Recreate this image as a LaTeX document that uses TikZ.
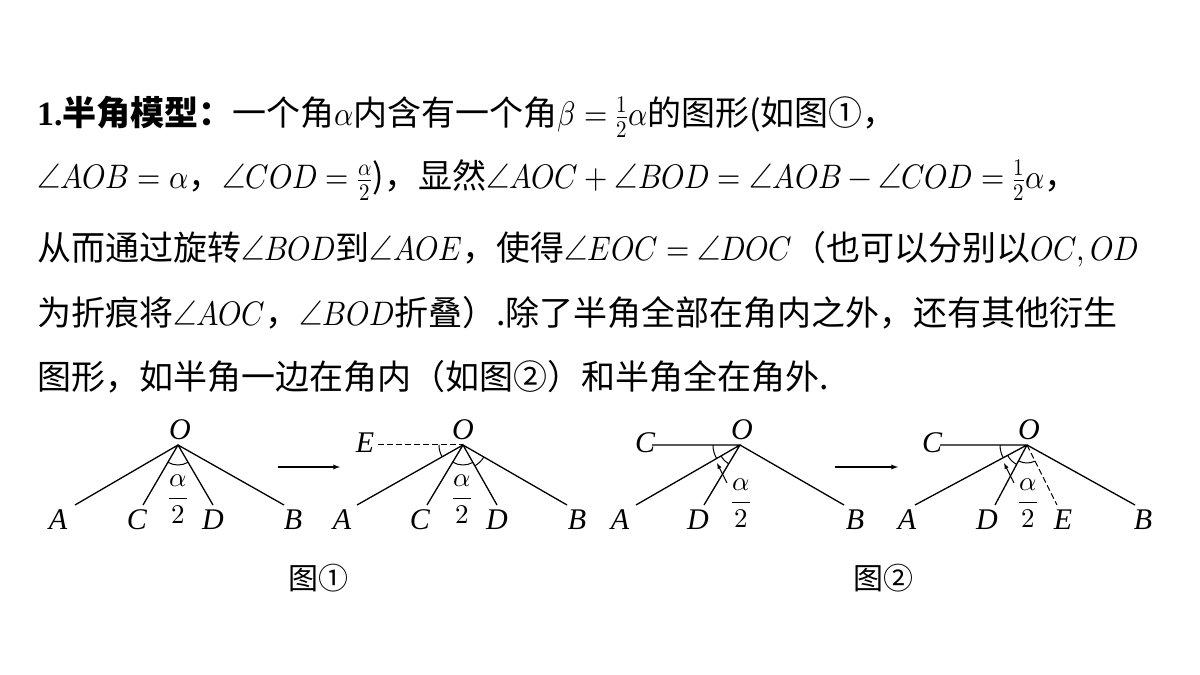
\documentclass[tikz,border=0pt]{standalone}
\usepackage{amsmath}
\usepackage{graphicx}
\usepackage{fontspec}
\usepackage{unicode-math}
\setmathfont{Latin Modern Math}
\setmainfont{Noto Sans CJK SC}
\newfontfamily\lbl{Liberation Serif}
\newfontfamily\numf{Liberation Serif}
\newcommand\mm[1]{\scalebox{0.88}[1]{$#1$}}
\usetikzlibrary{angles}
\begin{document}
\begin{tikzpicture}[x=1pt,y=1pt,
  txt/.style={anchor=west,inner sep=0,font=\fontsize{34}{34}\selectfont},
  lab/.style={font=\fontsize{30}{30}\selectfont\lbl\itshape,inner sep=0},
  frac/.style={font=\fontsize{27}{27}\selectfont,inner sep=0},
  ln/.style={line width=1.3pt},
  dsh/.style={line width=1pt,dash pattern=on 6pt off 3pt},
  ang/.style={draw,line width=1pt,angle radius=#1},
  figcap/.style={font=\fontsize{30}{30}\selectfont,inner sep=0}]
\useasboundingbox (0,0) rectangle (1200,675);
\fill[white] (0,0) rectangle (1200,675);
% text
\node[txt] (l1) at (37,558) {{\bfseries\numf 1.}{\bfseries 半角模型：}一个角\mm{\alpha}内含有一个角\mm{\beta=\frac{1}{2}\alpha}的图形(如图①，};
\node[txt] (l2) at (37,495) {\mm{\angle AOB=\alpha}，\mm{\angle COD=\frac{\alpha}{2}})，显然\mm{\angle AOC+\angle BOD=\angle AOB-\angle COD=\frac{1}{2}\alpha}，};
\node[txt] (l3) at (37,426) {从而通过旋转\mm{\angle BOD}到\mm{\angle AOE}，使得\mm{\angle EOC=\angle DOC}（也可以分别以\mm{OC,OD}};
\node[txt] (l4) at (37,362) {为折痕将\mm{\angle AOC}，\mm{\angle BOD}折叠）.除了半角全部在角内之外，还有其他衍生};
\node[txt] (l5) at (37,298) {图形，如半角一边在角内（如图②）和半角全在角外.};
% fig 1 left
\coordinate (O1) at (178,230);
\coordinate (A1) at (75,170); \coordinate (C1) at (143,170);
\coordinate (D1) at (213,170); \coordinate (B1) at (284,170);
\draw[ln] (A1)--(O1)--(B1) (C1)--(O1)--(D1);
\pic[ang=20pt] {angle=C1--O1--D1};
\node[lab] (o1) at (180,245) {O};
\node[lab] (a1) at (58,155) {A};
\node[lab] (c1) at (137,155) {C};
\node[lab] (d1) at (213,155) {D};
\node[lab] (b1) at (293,155) {B};
\node[frac] (f1) at (178,176) {$\dfrac{\alpha}{2}$};
% arrow 1
\coordinate (p1) at (278,208); \coordinate (q1) at (340,208);
\draw[line width=1.3pt,-latex] (p1)--(q1);
% fig 1 right
\coordinate (O2) at (463,230);
\coordinate (E2) at (378,230);
\coordinate (A2) at (357,170); \coordinate (C2) at (427,170);
\coordinate (D2) at (497,170); \coordinate (B2) at (567,170);
\draw[ln] (A2)--(O2)--(B2) (C2)--(O2)--(D2);
\draw[dsh] (E2)--(O2);
\pic[ang=20pt] {angle=C2--O2--D2};
\pic[ang=24pt] {angle=E2--O2--A2};
\pic[ang=24pt] {angle=D2--O2--B2};
\node[lab] (o2) at (463,245) {O};
\node[lab] (e2) at (365,232) {E};
\node[lab] (a2) at (342,155) {A};
\node[lab] (c2) at (420,155) {C};
\node[lab] (d2) at (497,155) {D};
\node[lab] (b2) at (577,155) {B};
\node[frac] (f2) at (462,176) {$\dfrac{\alpha}{2}$};
% fig 2 left
\coordinate (O3) at (740,230);
\coordinate (C3) at (652,230);
\coordinate (A3) at (636,170); \coordinate (D3) at (704,170); \coordinate (B3) at (844,170);
\draw[ln] (A3)--(O3)--(B3) (C3)--(O3)--(D3);
\pic[ang=27pt] {angle=C3--O3--A3};
\pic[ang=22pt] {angle=A3--O3--D3};
\coordinate (s3) at (727,192); \coordinate (t3) at (717,212);
\draw[line width=1pt,-latex] (s3)--(t3);
\node[lab] (o3) at (742,245) {O};
\node[lab] (c3) at (645,232) {C};
\node[lab] (a3) at (620,155) {A};
\node[lab] (d3) at (698,155) {D};
\node[lab] (b3) at (855,155) {B};
\node[frac] (f3) at (741,172) {$\dfrac{\alpha}{2}$};
% arrow 2
\coordinate (p2) at (835,208); \coordinate (q2) at (898,208);
\draw[line width=1.3pt,-latex] (p2)--(q2);
% fig 2 right
\coordinate (O4) at (1027,230);
\coordinate (C4) at (940,230);
\coordinate (A4) at (915,170); \coordinate (D4) at (995,170);
\coordinate (E4) at (1057,170); \coordinate (B4) at (1135,170);
\draw[ln] (A4)--(O4)--(B4) (C4)--(O4)--(D4);
\draw[dsh] (O4)--(E4);
\pic[ang=27pt] {angle=C4--O4--A4};
\pic[ang=22pt] {angle=A4--O4--D4};
\pic[ang=18pt] {angle=D4--O4--E4};
\coordinate (s4) at (1014,192); \coordinate (t4) at (1004,212);
\draw[line width=1pt,-latex] (s4)--(t4);
\node[lab] (o4) at (1029,245) {O};
\node[lab] (c4) at (932,232) {C};
\node[lab] (a4) at (907,155) {A};
\node[lab] (d4) at (987,155) {D};
\node[lab] (e4) at (1063,155) {E};
\node[lab] (b4) at (1143,155) {B};
\node[frac] (f4) at (1028,172) {$\dfrac{\alpha}{2}$};
% captions
\node[figcap] (k1) at (318,97) {图①};
\node[figcap] (k2) at (883,97) {图②};
\end{tikzpicture}
\end{document}
